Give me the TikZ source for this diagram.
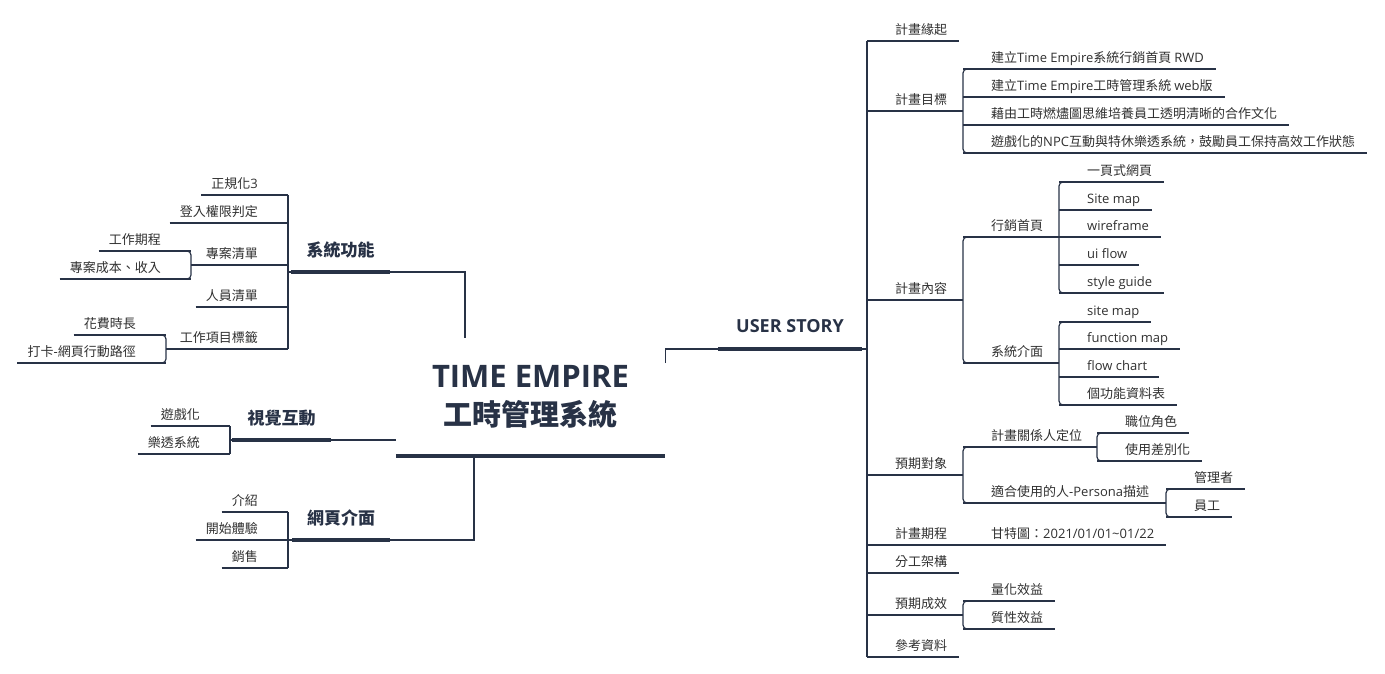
\documentclass[tikz,border=0pt]{standalone}
\usepackage{fontspec}
\setmainfont{Noto Sans CJK TC}
\newfontfamily\latf{Open Sans}
\usetikzlibrary{calc}
\definecolor{navy}{HTML}{283246}
\definecolor{txt}{HTML}{303030}
\newcommand\la[1]{{\latf #1}}
\tikzset{
  lbl/.style={inner sep=0pt, text=txt, font=\fontsize{13}{15}\selectfont},
  ln/.style={draw=navy, line width=1.2pt},
  bar/.style={draw=navy, line width=4pt},
  br/.style={draw=navy, line width=1.2pt, rounded corners=4pt},
  brt/.style={inner sep=0pt, text=navy, font=\fontsize{17}{20}\selectfont\bfseries},
}
\newcommand\mmRL[4]{%
  \coordinate (#1-l) at (#2,#3);
  \node[lbl,anchor=base west] (#1) at ($(#1-l)+(28,-7)$) {#4};
  \coordinate (#1-r) at ($(#1.base east |- #1-l)+(12,0)$);
  \draw[ln] (#1-l) -- (#1-r);}
\newcommand\mmRP[5]{%
  \coordinate (#1-l) at (#2,#4);
  \coordinate (#1-r) at (#3,#4);
  \node[lbl,anchor=base west] (#1) at ($(#1-l)+(28,-7)$) {#5};
  \draw[ln] (#1-l) -- (#1-r);}
\newcommand\mmLL[4]{%
  \coordinate (#1-r) at (#2,#3);
  \node[lbl,anchor=base east] (#1) at ($(#1-r)+(-30,-7)$) {#4};
  \coordinate (#1-l) at ($(#1.base west |- #1-r)+(-10,0)$);
  \draw[ln] (#1-l) -- (#1-r);}
\newcommand\mmLP[5]{%
  \coordinate (#1-l) at (#2,#4);
  \coordinate (#1-r) at (#3,#4);
  \node[lbl,anchor=base east] (#1) at ($(#1-r)+(-30,-7)$) {#5};
  \draw[ln] (#1-l) -- (#1-r);}
\newcommand\mmRB[2]{\draw[br] ($(#1-l)+(10,0)$) -- (#1-l) -- (#2-l) -- ($(#2-l)+(10,0)$);}
\newcommand\mmLB[2]{\draw[br] ($(#1-r)+(-10,0)$) -- (#1-r) -- (#2-r) -- ($(#2-r)+(-10,0)$);}
\newcommand\mmBR[6]{%
  \coordinate (#1-l) at (#2,#4);
  \coordinate (#1-r) at (#3,#4);
  \node[brt,anchor=base] (#1) at ($(#1-l)!0.5!(#1-r)+(0,-#6)$) {#5};
  \draw[bar] (#1-l) -- (#1-r);}
\begin{document}
\begin{tikzpicture}[x=1pt,y=-1pt]
\useasboundingbox (0,0) rectangle (1385,673);
% centre
\node[inner sep=0pt, minimum width=269pt, minimum height=118pt, align=center, text=navy,
      font=\fontsize{29}{38}\selectfont\bfseries] (center) at (530.5,397)
      {{\latf\fontsize{31}{38}\selectfont TIME EMPIRE}\\工時管理系統};
\draw[bar] (center.south west) -- (center.south east);
% main branches
\mmBR{sys}{291}{390}{272}{系統功能}{15.5}
\mmBR{vis}{232}{331}{440}{視覺互動}{15.5}
\mmBR{web}{292}{390}{540}{網頁介面}{15.5}
\mmBR{us}{718}{862}{349}{{\latf\fontsize{18}{20}\selectfont USER STORY}}{16.5}
\draw[ln] ([xshift=-65.5pt]center.north) |- (sys-r);
\draw[ln] ([yshift=-43pt]center.west) -- (vis-r);
\draw[ln] ([xshift=-56.5pt]center.south) |- (web-r);
\draw[ln] ([yshift=34pt]center.east) |- (us-l);
% 系統功能
\mmLL{a1}{288}{195}{正規化\la{3}}
\mmLL{a2}{288}{223}{登入權限判定}
\mmLP{a3}{191}{288}{265}{專案清單}
\mmLL{a4}{288}{307}{人員清單}
\mmLP{a5}{166}{288}{349}{工作項目標籤}
\draw[ln] (a1-r) -- (a5-r);
\draw[ln] (sys-l) -- (sys-l -| a1-r);
\mmLL{a31}{191}{251}{工作期程}
\mmLL{a32}{191}{279}{專案成本、收入}
\mmLB{a31}{a32}
\mmLL{a51}{166}{335}{花費時長}
\mmLL{a52}{166}{363}{打卡\la{-}網頁行動路徑}
\mmLB{a51}{a52}
% 視覺互動
\mmLL{b1}{230}{426}{遊戲化}
\mmLL{b2}{230}{454}{樂透系統}
\draw[ln] (b1-r) -- (b2-r);
\draw[ln] (vis-l) -- (vis-l -| b1-r);
% 網頁介面
\mmLL{c1}{288}{512}{介紹}
\mmLL{c2}{288}{540}{開始體驗}
\mmLL{c3}{288}{568}{銷售}
\draw[ln] (c1-r) -- (c3-r);
\draw[ln] (web-l) -- (web-l -| c1-r);
% USER STORY
\mmRL{r1}{867}{41}{計畫緣起}
\mmRP{r2}{867}{963}{111}{計畫目標}
\mmRL{r21}{963}{69}{建立\la{Time Empire}系統行銷首頁 \la{RWD}}
\mmRL{r22}{963}{97}{建立\la{Time Empire}工時管理系統 \la{web}版}
\mmRL{r23}{963}{125}{藉由工時燃燼圖思維培養員工透明清晰的合作文化}
\mmRL{r24}{963}{153}{遊戲化的\la{NPC}互動與特休樂透系統，鼓勵員工保持高效工作狀態}
\mmRB{r21}{r24}
\mmRP{r3}{867}{963}{300}{計畫內容}
\mmRP{r31}{963}{1059}{237}{行銷首頁}
\mmRL{r311}{1059}{182}{一頁式網頁}
\mmRL{r312}{1059}{210}{\la{Site map}}
\mmRL{r313}{1059}{237}{\la{wireframe}}
\mmRL{r314}{1059}{265}{\la{ui flow}}
\mmRL{r315}{1059}{293}{\la{style guide}}
\mmRB{r311}{r315}
\mmRP{r32}{963}{1059}{363}{系統介面}
\mmRL{r321}{1059}{322}{\la{site map}}
\mmRL{r322}{1059}{349}{\la{function map}}
\mmRL{r323}{1059}{377}{\la{flow chart}}
\mmRL{r324}{1059}{405}{個功能資料表}
\mmRB{r321}{r324}
\mmRB{r31}{r32}
\mmRP{r4}{867}{963}{475}{預期對象}
\mmRP{r41}{963}{1097}{447}{計畫關係人定位}
\mmRL{r411}{1097}{433}{職位角色}
\mmRL{r412}{1097}{461}{使用差別化}
\mmRB{r411}{r412}
\mmRP{r42}{963}{1166}{503}{適合使用的人\la{-Persona}描述}
\mmRL{r421}{1166}{489}{管理者}
\mmRL{r422}{1166}{517}{員工}
\mmRB{r421}{r422}
\mmRB{r41}{r42}
\mmRP{r5}{867}{963}{545}{計畫期程}
\mmRL{r51}{963}{545}{甘特圖：\la{2021/01/01\textasciitilde 01/22}}
\mmRL{r6}{867}{573}{分工架構}
\mmRP{r7}{867}{963}{615}{預期成效}
\mmRL{r71}{963}{601}{量化效益}
\mmRL{r72}{963}{629}{質性效益}
\mmRB{r71}{r72}
\mmRL{r8}{867}{657}{參考資料}
\draw[ln] (r1-l) -- (r8-l);
\draw[ln] (us-r) -- (us-r -| r1-l);
\end{tikzpicture}
\end{document}
